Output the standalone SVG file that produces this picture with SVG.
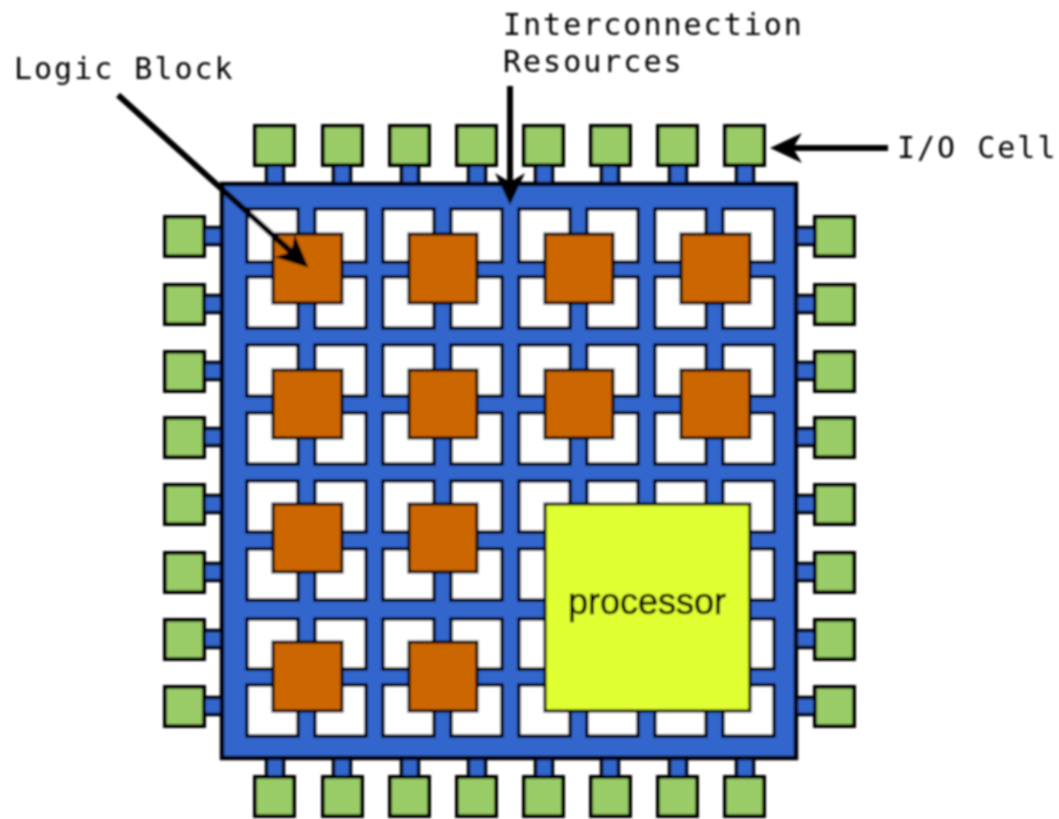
<svg xmlns="http://www.w3.org/2000/svg" width="1059" height="819" viewBox="0 0 1059 819">
<style>
.b{fill:#3366cc;stroke:#000;stroke-width:3.5}
.h{fill:#fff;stroke:#000;stroke-width:3.5}
.io{fill:#99cc66;stroke:#000;stroke-width:4}
.lb{fill:#cc6600;stroke:#000;stroke-width:3}
.p{fill:#e0ff33;stroke:#000;stroke-width:3}
.t{font-family:"DejaVu Sans Mono","Liberation Mono",monospace;font-size:30px;letter-spacing:2px;fill:#000}
.pt{font-family:"Liberation Sans",Arial,sans-serif;font-size:36px;fill:#000;stroke:#000;stroke-width:.6}
.a{fill:none;stroke:#000;stroke-width:6;marker-end:url(#ah)}
</style>
<defs>
<marker id="ah" markerUnits="userSpaceOnUse" markerWidth="36" markerHeight="36" refX="18" refY="16" orient="auto"><path d="M32,16 L0,1 L9,16 L0,31 Z" fill="#000"/></marker>
<filter id="soft" x="-2%" y="-2%" width="104%" height="104%"><feGaussianBlur stdDeviation="0.9"/></filter>
</defs>
<g filter="url(#soft)">
<g id="stubs">
<rect class="b" x="266.500" y="160" width="17" height="30"/><rect class="b" x="333.500" y="160" width="17" height="30"/><rect class="b" x="401.500" y="160" width="17" height="30"/><rect class="b" x="468.500" y="160" width="17" height="30"/><rect class="b" x="535.500" y="160" width="17" height="30"/><rect class="b" x="601.500" y="160" width="17" height="30"/><rect class="b" x="669.500" y="160" width="17" height="30"/><rect class="b" x="736.500" y="160" width="17" height="30"/>
<rect class="b" x="266.500" y="752" width="17" height="30"/><rect class="b" x="333.500" y="752" width="17" height="30"/><rect class="b" x="401.500" y="752" width="17" height="30"/><rect class="b" x="468.500" y="752" width="17" height="30"/><rect class="b" x="535.500" y="752" width="17" height="30"/><rect class="b" x="601.500" y="752" width="17" height="30"/><rect class="b" x="669.500" y="752" width="17" height="30"/><rect class="b" x="736.500" y="752" width="17" height="30"/>
<rect class="b" x="198" y="227.500" width="30" height="17"/><rect class="b" x="198" y="295.500" width="30" height="17"/><rect class="b" x="198" y="362.500" width="30" height="17"/><rect class="b" x="198" y="428.500" width="30" height="17"/><rect class="b" x="198" y="495.500" width="30" height="17"/><rect class="b" x="198" y="563.500" width="30" height="17"/><rect class="b" x="198" y="630.500" width="30" height="17"/><rect class="b" x="198" y="697.500" width="30" height="17"/>
<rect class="b" x="790" y="227.500" width="30" height="17"/><rect class="b" x="790" y="295.500" width="30" height="17"/><rect class="b" x="790" y="362.500" width="30" height="17"/><rect class="b" x="790" y="428.500" width="30" height="17"/><rect class="b" x="790" y="495.500" width="30" height="17"/><rect class="b" x="790" y="563.500" width="30" height="17"/><rect class="b" x="790" y="630.500" width="30" height="17"/><rect class="b" x="790" y="697.500" width="30" height="17"/>
</g>
<g id="fabric">
<rect class="b" x="222" y="184" width="574" height="574" style="stroke-width:4.5"/>
<path class="h" d="M247,209h51v53h-51zM315,209h51v53h-51zM383,209h51v53h-51zM451,209h51v53h-51zM519,209h51v53h-51zM587,209h51v53h-51zM655,209h51v53h-51zM723,209h51v53h-51zM247,277h51v51h-51zM315,277h51v51h-51zM383,277h51v51h-51zM451,277h51v51h-51zM519,277h51v51h-51zM587,277h51v51h-51zM655,277h51v51h-51zM723,277h51v51h-51zM247,345h51v51h-51zM315,345h51v51h-51zM383,345h51v51h-51zM451,345h51v51h-51zM519,345h51v51h-51zM587,345h51v51h-51zM655,345h51v51h-51zM723,345h51v51h-51zM247,413h51v51h-51zM315,413h51v51h-51zM383,413h51v51h-51zM451,413h51v51h-51zM519,413h51v51h-51zM587,413h51v51h-51zM655,413h51v51h-51zM723,413h51v51h-51zM247,481h51v51h-51zM315,481h51v51h-51zM383,481h51v51h-51zM451,481h51v51h-51zM519,481h51v51h-51zM587,481h51v51h-51zM655,481h51v51h-51zM723,481h51v51h-51zM247,549h51v51h-51zM315,549h51v51h-51zM383,549h51v51h-51zM451,549h51v51h-51zM519,549h51v51h-51zM587,549h51v51h-51zM655,549h51v51h-51zM723,549h51v51h-51zM247,619h51v50h-51zM315,619h51v50h-51zM383,619h51v50h-51zM451,619h51v50h-51zM519,619h51v50h-51zM587,619h51v50h-51zM655,619h51v50h-51zM723,619h51v50h-51zM247,685h51v51h-51zM315,685h51v51h-51zM383,685h51v51h-51zM451,685h51v51h-51zM519,685h51v51h-51zM587,685h51v51h-51zM655,685h51v51h-51zM723,685h51v51h-51z"/>
</g>
<g id="io-top">
<g id="io-t1"><rect class="io" x="255" y="126" width="39" height="39"/></g><g id="io-t2"><rect class="io" x="323" y="126" width="39" height="39"/></g><g id="io-t3"><rect class="io" x="390" y="126" width="39" height="39"/></g><g id="io-t4"><rect class="io" x="457" y="126" width="39" height="39"/></g><g id="io-t5"><rect class="io" x="524" y="126" width="39" height="39"/></g><g id="io-t6"><rect class="io" x="591" y="126" width="39" height="39"/></g><g id="io-t7"><rect class="io" x="658" y="126" width="39" height="39"/></g><g id="io-t8"><rect class="io" x="725" y="126" width="39" height="39"/></g>
</g>
<g id="io-bottom">
<g id="io-b1"><rect class="io" x="255" y="777" width="39" height="39"/></g><g id="io-b2"><rect class="io" x="323" y="777" width="39" height="39"/></g><g id="io-b3"><rect class="io" x="390" y="777" width="39" height="39"/></g><g id="io-b4"><rect class="io" x="457" y="777" width="39" height="39"/></g><g id="io-b5"><rect class="io" x="524" y="777" width="39" height="39"/></g><g id="io-b6"><rect class="io" x="591" y="777" width="39" height="39"/></g><g id="io-b7"><rect class="io" x="658" y="777" width="39" height="39"/></g><g id="io-b8"><rect class="io" x="725" y="777" width="39" height="39"/></g>
</g>
<g id="io-left">
<g id="io-l1"><rect class="io" x="165" y="217" width="39" height="39"/></g><g id="io-l2"><rect class="io" x="165" y="285" width="39" height="39"/></g><g id="io-l3"><rect class="io" x="165" y="352" width="39" height="39"/></g><g id="io-l4"><rect class="io" x="165" y="418" width="39" height="39"/></g><g id="io-l5"><rect class="io" x="165" y="485" width="39" height="39"/></g><g id="io-l6"><rect class="io" x="165" y="553" width="39" height="39"/></g><g id="io-l7"><rect class="io" x="165" y="620" width="39" height="39"/></g><g id="io-l8"><rect class="io" x="165" y="687" width="39" height="39"/></g>
</g>
<g id="io-right">
<g id="io-r1"><rect class="io" x="815" y="217" width="39" height="39"/></g><g id="io-r2"><rect class="io" x="815" y="285" width="39" height="39"/></g><g id="io-r3"><rect class="io" x="815" y="352" width="39" height="39"/></g><g id="io-r4"><rect class="io" x="815" y="418" width="39" height="39"/></g><g id="io-r5"><rect class="io" x="815" y="485" width="39" height="39"/></g><g id="io-r6"><rect class="io" x="815" y="553" width="39" height="39"/></g><g id="io-r7"><rect class="io" x="815" y="620" width="39" height="39"/></g><g id="io-r8"><rect class="io" x="815" y="687" width="39" height="39"/></g>
</g>
<g id="logic-blocks">
<g id="lb-1"><rect class="lb" x="273" y="234" width="69" height="69"/></g><g id="lb-2"><rect class="lb" x="409" y="234" width="68" height="69"/></g><g id="lb-3"><rect class="lb" x="545" y="234" width="68" height="69"/></g><g id="lb-4"><rect class="lb" x="681" y="234" width="69" height="69"/></g>
<g id="lb-5"><rect class="lb" x="273" y="370" width="69" height="68"/></g><g id="lb-6"><rect class="lb" x="409" y="370" width="68" height="68"/></g><g id="lb-7"><rect class="lb" x="545" y="370" width="68" height="68"/></g><g id="lb-8"><rect class="lb" x="681" y="370" width="69" height="68"/></g>
<g id="lb-9"><rect class="lb" x="273" y="504" width="69" height="68"/></g><g id="lb-10"><rect class="lb" x="409" y="504" width="68" height="68"/></g>
<g id="lb-11"><rect class="lb" x="273" y="642" width="69" height="69"/></g><g id="lb-12"><rect class="lb" x="409" y="642" width="68" height="69"/></g>
</g>
<g id="processor"><rect class="p" x="545" y="504" width="205" height="207"/><text class="pt" x="647" y="614" text-anchor="middle" textLength="158" lengthAdjust="spacingAndGlyphs">processor</text></g>
<g id="connectors">
<path class="a" d="M118,95 L298,258"/>
<path class="a" d="M510,86 L510,191"/>
<path class="a" d="M888,148 L784,148"/>
</g>
<g id="labels">
<text class="t" x="14" y="79">Logic Block</text>
<text class="t" x="503" y="35">Interconnection</text>
<text class="t" x="503" y="72">Resources</text>
<text class="t" x="897" y="158">I/O Cell</text>
</g>
</g>
</svg>
